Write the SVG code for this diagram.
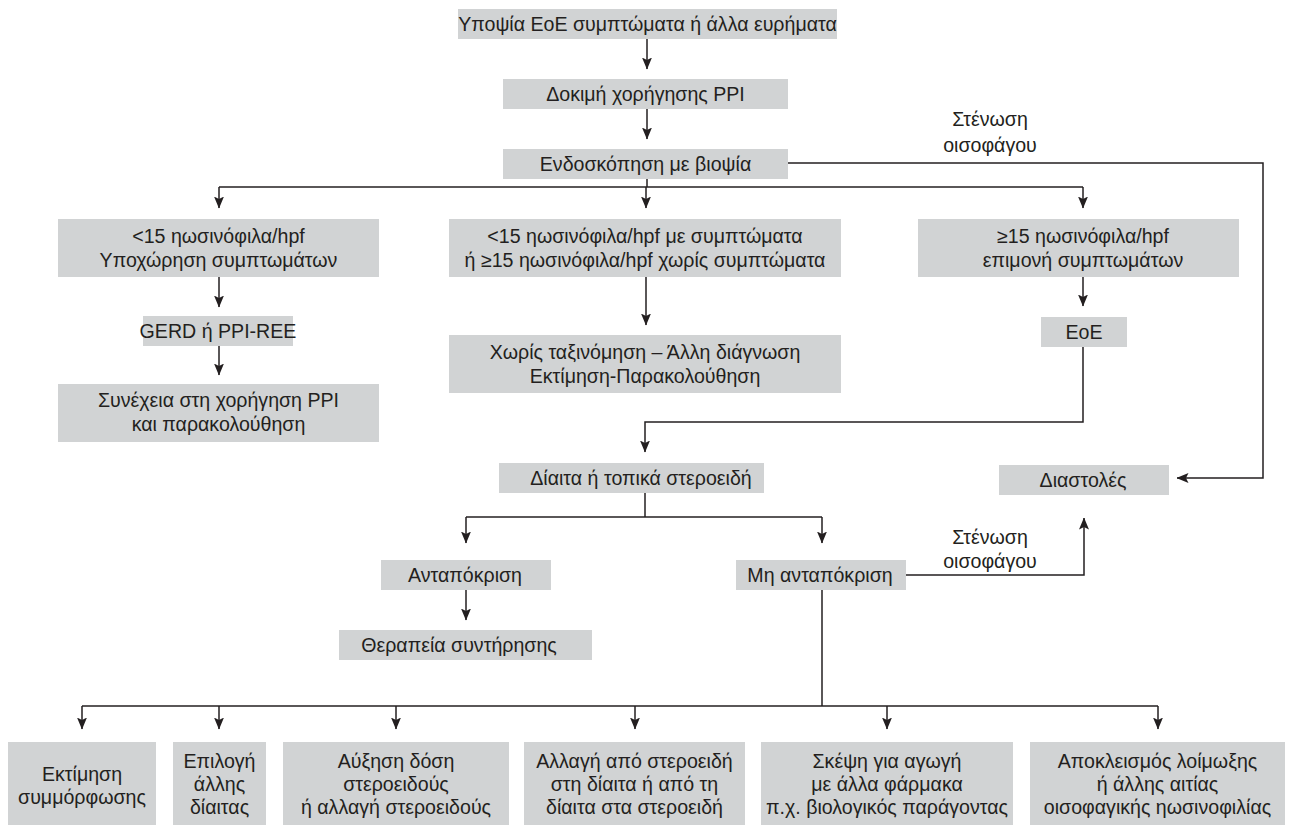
<svg xmlns="http://www.w3.org/2000/svg" width="1289" height="825" viewBox="0 0 1289 825">
<style>
.box{fill:#d1d3d4;}
.t{font-family:"Liberation Sans",Arial,sans-serif;font-size:19.6px;fill:#231f20;text-anchor:middle;}
.c{fill:none;stroke:#231f20;stroke-width:1.5;}
.a{marker-end:url(#ah);}
</style>
<defs>
<marker id="ah" viewBox="0 0 12 10" refX="11.5" refY="5" markerWidth="12" markerHeight="10" markerUnits="userSpaceOnUse" orient="auto">
<path d="M0,0 L12,5 L0,10 L2.5,5 z" fill="#231f20"/>
</marker>
</defs>
<rect width="1289" height="825" fill="#ffffff"/>
<g id="connectors">
<path class="c a" d="M647,39 V69"/>
<path class="c a" d="M647,109 V139"/>
<path class="c" d="M647,179 V187"/>
<path class="c" d="M219,187 H1083"/>
<path class="c a" d="M219,187 V208"/>
<path class="c a" d="M646,187 V208"/>
<path class="c a" d="M1083,187 V208"/>
<path class="c a" d="M788,163 H1263 V478 H1177"/>
<path class="c a" d="M219,277 V307"/>
<path class="c a" d="M219,346 V375"/>
<path class="c a" d="M646,277 V325"/>
<path class="c a" d="M1083,277 V306"/>
<path class="c a" d="M1083,347 V422 H645 V452"/>
<path class="c" d="M645,493 V517"/>
<path class="c" d="M466,517 H822"/>
<path class="c a" d="M466,517 V543"/>
<path class="c a" d="M822,517 V543"/>
<path class="c a" d="M466,590 V620"/>
<path class="c a" d="M906,575 H1084 V518"/>
<path class="c" d="M822,590 V706"/>
<path class="c" d="M82,706 H1158"/>
<path class="c a" d="M82,706 V729"/>
<path class="c a" d="M219,706 V729"/>
<path class="c a" d="M396,706 V729"/>
<path class="c a" d="M635,706 V729"/>
<path class="c a" d="M887,706 V729"/>
<path class="c a" d="M1158,706 V729"/>
</g>
<g id="labels">
<text class="t" x="990" y="126">Στένωση</text>
<text class="t" x="990" y="152">οισοφάγου</text>
<text class="t" x="990" y="544">Στένωση</text>
<text class="t" x="990" y="568">οισοφάγου</text>
</g>
<g id="n1"><rect class="box" x="458" y="9" width="379" height="30"/><text class="t" x="647.5" y="31">Υποψία ΕοΕ συμπτώματα ή άλλα ευρήματα</text></g>
<g id="n2"><rect class="box" x="503" y="79" width="285" height="30"/><text class="t" x="645.5" y="101">Δοκιμή χορήγησης PPI</text></g>
<g id="n3"><rect class="box" x="503" y="149" width="285" height="30"/><text class="t" x="645.5" y="171">Ενδοσκόπηση με βιοψία</text></g>
<g id="n4"><rect class="box" x="58" y="219" width="321" height="58"/><text class="t" x="218.5" y="243">&lt;15 ηωσινόφιλα/hpf</text><text class="t" x="218.5" y="267">Υποχώρηση συμπτωμάτων</text></g>
<g id="n5"><rect class="box" x="449" y="219" width="392" height="58"/><text class="t" x="645" y="243">&lt;15 ηωσινόφιλα/hpf με συμπτώματα</text><text class="t" x="645" y="267">ή ≥15 ηωσινόφιλα/hpf χωρίς συμπτώματα</text></g>
<g id="n6"><rect class="box" x="918" y="219" width="321" height="58"/><text class="t" x="1083" y="243">≥15 ηωσινόφιλα/hpf</text><text class="t" x="1083" y="267">επιμονή συμπτωμάτων</text></g>
<g id="n7"><rect class="box" x="143" y="316" width="150" height="30"/><text class="t" x="218" y="338">GERD ή PPI-REE</text></g>
<g id="n8"><rect class="box" x="58" y="384" width="321" height="58"/><text class="t" x="218.5" y="407">Συνέχεια στη χορήγηση PPI</text><text class="t" x="218.5" y="431">και παρακολούθηση</text></g>
<g id="n9"><rect class="box" x="449" y="335" width="392" height="58"/><text class="t" x="645" y="359">Χωρίς ταξινόμηση – Άλλη διάγνωση</text><text class="t" x="645" y="383">Εκτίμηση-Παρακολούθηση</text></g>
<g id="n10"><rect class="box" x="1041" y="317" width="86" height="30"/><text class="t" x="1084" y="339">EoE</text></g>
<g id="n11"><rect class="box" x="499" y="463" width="265" height="30"/><text class="t" x="641" y="485">Δίαιτα ή τοπικά στεροειδή</text></g>
<g id="n12"><rect class="box" x="381" y="560" width="170" height="30"/><text class="t" x="465" y="582">Ανταπόκριση</text></g>
<g id="n13"><rect class="box" x="339" y="630" width="253" height="30"/><text class="t" x="459" y="652">Θεραπεία συντήρησης</text></g>
<g id="n14"><rect class="box" x="736" y="560" width="170" height="30"/><text class="t" x="820" y="582">Μη ανταπόκριση</text></g>
<g id="n15"><rect class="box" x="999" y="465" width="170" height="30"/><text class="t" x="1083" y="487">Διαστολές</text></g>
<g id="b1"><rect class="box" x="8" y="742" width="148" height="84"/><text class="t" x="82" y="781">Εκτίμηση</text><text class="t" x="82" y="804">συμμόρφωσης</text></g>
<g id="b2"><rect class="box" x="173" y="742" width="93" height="84"/><text class="t" x="219.5" y="768">Επιλογή</text><text class="t" x="219.5" y="791">άλλης</text><text class="t" x="219.5" y="814">δίαιτας</text></g>
<g id="b3"><rect class="box" x="283" y="742" width="226" height="84"/><text class="t" x="396" y="768">Αύξηση δόση</text><text class="t" x="396" y="791">στεροειδούς</text><text class="t" x="396" y="814">ή αλλαγή στεροειδούς</text></g>
<g id="b4"><rect class="box" x="524" y="742" width="221" height="84"/><text class="t" x="634.5" y="768">Αλλαγή από στεροειδή</text><text class="t" x="634.5" y="791">στη δίαιτα ή από τη</text><text class="t" x="634.5" y="814">δίαιτα στα στεροειδή</text></g>
<g id="b5"><rect class="box" x="761" y="742" width="252" height="84"/><text class="t" x="887" y="768">Σκέψη για αγωγή</text><text class="t" x="887" y="791">με άλλα φάρμακα</text><text class="t" x="887" y="814">π.χ. βιολογικός παράγοντας</text></g>
<g id="b6"><rect class="box" x="1030" y="742" width="255" height="84"/><text class="t" x="1157.5" y="768">Αποκλεισμός λοίμωξης</text><text class="t" x="1157.5" y="791">ή άλλης αιτίας</text><text class="t" x="1157.5" y="814">οισοφαγικής ηωσινοφιλίας</text></g>
</svg>
